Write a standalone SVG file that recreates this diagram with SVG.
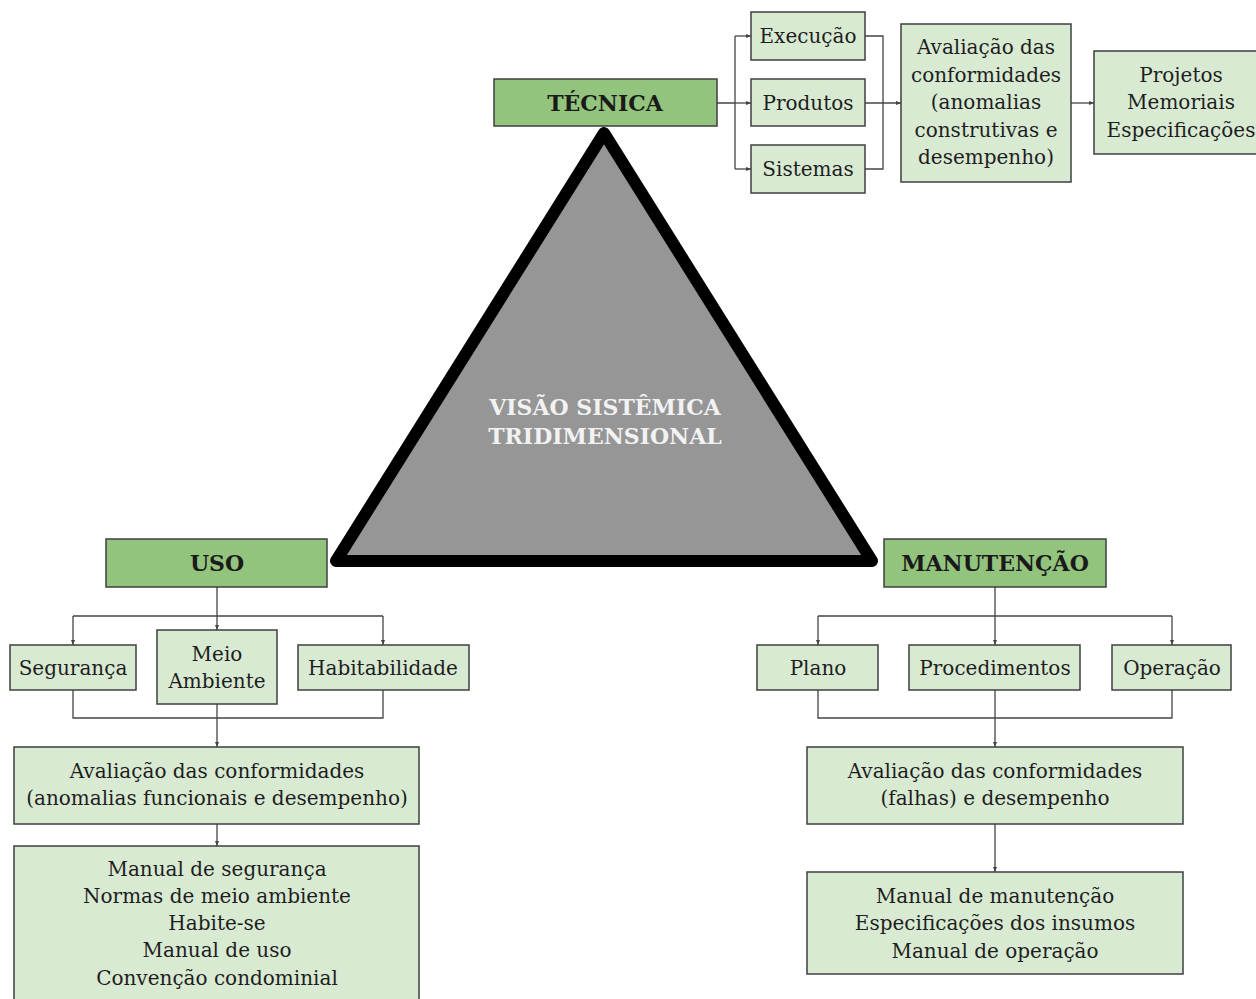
<svg xmlns="http://www.w3.org/2000/svg" width="1256" height="999" viewBox="0 0 1256 999">
<defs>
<marker id="ar" viewBox="0 0 10 10" refX="10" refY="5" markerWidth="5" markerHeight="5" orient="auto" markerUnits="userSpaceOnUse"><path d="M0,1 L10,5 L0,9 z" fill="#444"/></marker>
<style>
.main{fill:#93c47d;stroke:#3f3f3f;stroke-width:1.5}
.sub{fill:#d9ead3;stroke:#3f3f3f;stroke-width:1.5}
.t{font-family:"DejaVu Serif","Liberation Serif",serif;font-size:20px;fill:#1e1e1e;text-anchor:middle}
.b{font-family:"DejaVu Serif","Liberation Serif",serif;font-size:22px;font-weight:bold;fill:#1a1a1a;text-anchor:middle}
.w{font-family:"DejaVu Serif","Liberation Serif",serif;font-size:22px;font-weight:bold;fill:#f2f2f2;text-anchor:middle}
.c{fill:none;stroke:#444;stroke-width:1.3}
.ca{fill:none;stroke:#444;stroke-width:1.3;marker-end:url(#ar)}
</style>
</defs>
<rect width="1256" height="999" fill="#fff"/>

<g id="triangle">
<polygon points="604,133 336,561 872,561" fill="#969696" stroke="#000" stroke-width="12" stroke-linejoin="round"/>
<text class="w" x="605" y="415">VISÃO SISTÊMICA</text>
<text class="w" x="605" y="444">TRIDIMENSIONAL</text>
</g>

<g id="connectors">
<path class="c" d="M717,103 H735 M735,36 V169"/>
<path class="ca" d="M735,36 H751"/>
<path class="ca" d="M735,103 H751"/>
<path class="ca" d="M735,169 H751"/>
<path class="c" d="M865,36 H883 V169 H865"/>
<path class="ca" d="M865,103 H901"/>
<path class="ca" d="M1071,103 H1094"/>
<path class="ca" d="M217,587 V630"/>
<path class="c" d="M73,616 H383"/>
<path class="ca" d="M73,616 V645"/>
<path class="ca" d="M383,616 V645"/>
<path class="c" d="M73,690 V718 H383 V690"/>
<path class="ca" d="M217,704 V747"/>
<path class="ca" d="M217,824 V846"/>
<path class="ca" d="M995,587 V645"/>
<path class="c" d="M818,616 H1172"/>
<path class="ca" d="M818,616 V645"/>
<path class="ca" d="M1172,616 V645"/>
<path class="c" d="M818,690 V718 H1172 V690"/>
<path class="ca" d="M995,690 V747"/>
<path class="ca" d="M995,824 V872"/>
</g>

<g id="tecnica"><rect class="main" x="494" y="79" width="223" height="47"/><text class="b" x="605" y="111">TÉCNICA</text></g>
<g id="execucao"><rect class="sub" x="751" y="12" width="114" height="48"/><text class="t" x="808" y="43">Execução</text></g>
<g id="produtos"><rect class="sub" x="751" y="79" width="114" height="47"/><text class="t" x="808" y="110">Produtos</text></g>
<g id="sistemas"><rect class="sub" x="751" y="145" width="114" height="48"/><text class="t" x="808" y="176">Sistemas</text></g>
<g id="aval-tecnica"><rect class="sub" x="901" y="24" width="170" height="158"/>
<text class="t" x="986" y="54">Avaliação das</text>
<text class="t" x="986" y="82">conformidades</text>
<text class="t" x="986" y="109">(anomalias</text>
<text class="t" x="986" y="137">construtivas e</text>
<text class="t" x="986" y="164">desempenho)</text></g>
<g id="projetos"><rect class="sub" x="1094" y="51" width="170" height="103"/>
<text class="t" x="1181" y="82">Projetos</text>
<text class="t" x="1181" y="109">Memoriais</text>
<text class="t" x="1181" y="137">Especificações</text></g>

<g id="uso"><rect class="main" x="106" y="539" width="221" height="48"/><text class="b" x="217" y="571">USO</text></g>
<g id="seguranca"><rect class="sub" x="10" y="645" width="126" height="45"/><text class="t" x="73" y="675">Segurança</text></g>
<g id="meio-ambiente"><rect class="sub" x="157" y="630" width="120" height="74"/><text class="t" x="217" y="661">Meio</text><text class="t" x="217" y="688">Ambiente</text></g>
<g id="habitabilidade"><rect class="sub" x="298" y="645" width="171" height="45"/><text class="t" x="383" y="675">Habitabilidade</text></g>
<g id="aval-uso"><rect class="sub" x="14" y="747" width="405" height="77"/>
<text class="t" x="217" y="778">Avaliação das conformidades</text>
<text class="t" x="217" y="805">(anomalias funcionais e desempenho)</text></g>
<g id="manual-uso"><rect class="sub" x="14" y="846" width="405" height="160"/>
<text class="t" x="217" y="876">Manual de segurança</text>
<text class="t" x="217" y="903">Normas de meio ambiente</text>
<text class="t" x="217" y="930">Habite-se</text>
<text class="t" x="217" y="957">Manual de uso</text>
<text class="t" x="217" y="985">Convenção condominial</text></g>

<g id="manutencao"><rect class="main" x="884" y="539" width="222" height="48"/><text class="b" x="995" y="571">MANUTENÇÃO</text></g>
<g id="plano"><rect class="sub" x="757" y="645" width="121" height="45"/><text class="t" x="818" y="675">Plano</text></g>
<g id="procedimentos"><rect class="sub" x="909" y="645" width="171" height="45"/><text class="t" x="995" y="675">Procedimentos</text></g>
<g id="operacao"><rect class="sub" x="1112" y="645" width="119" height="45"/><text class="t" x="1172" y="675">Operação</text></g>
<g id="aval-manutencao"><rect class="sub" x="807" y="747" width="376" height="77"/>
<text class="t" x="995" y="778">Avaliação das conformidades</text>
<text class="t" x="995" y="805">(falhas) e desempenho</text></g>
<g id="manual-manutencao"><rect class="sub" x="807" y="872" width="376" height="102"/>
<text class="t" x="995" y="903">Manual de manutenção</text>
<text class="t" x="995" y="930">Especificações dos insumos</text>
<text class="t" x="995" y="958">Manual de operação</text></g>
</svg>
